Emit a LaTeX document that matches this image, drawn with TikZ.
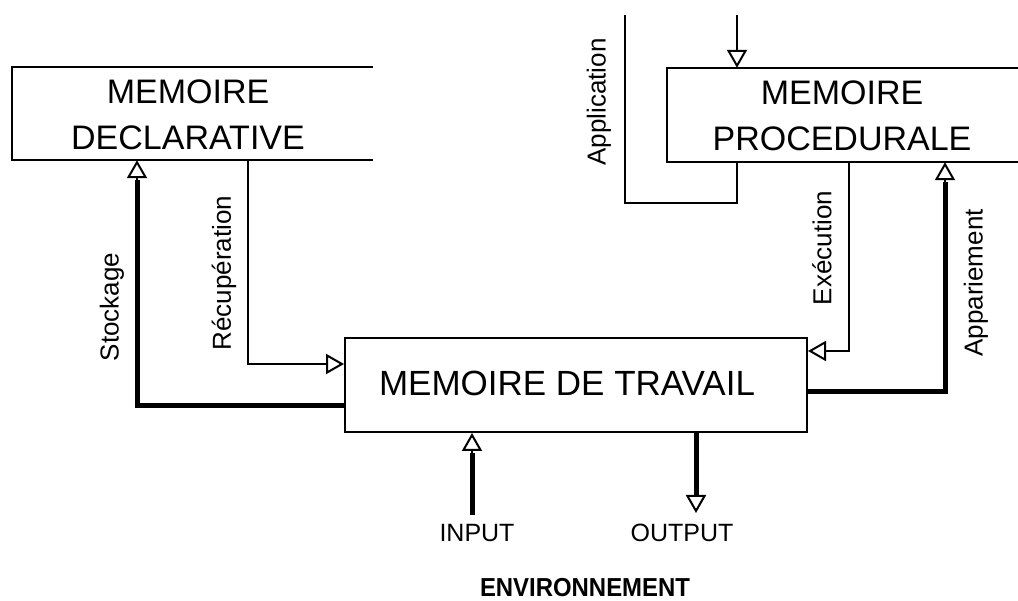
\documentclass[tikz,border=0pt]{standalone}
\usepackage{fontspec}
\setmainfont{Liberation Sans}
\usetikzlibrary{arrows.meta}
\begin{document}
\begin{tikzpicture}[x=1pt,y=-1pt,
  thinline/.style={line width=2pt},
  thickline/.style={line width=5pt},
  opentip/.style={-{Triangle[open,length=18pt,width=20pt,line width=2pt]}},
  memtext/.style={font=\fontsize{34}{46}\selectfont, align=center},
  flowlabel/.style={font=\fontsize{26}{30}\selectfont, rotate=90, inner sep=0pt},
  iolabel/.style={font=\fontsize{25}{30}\selectfont, inner sep=0pt}]
  \useasboundingbox (0,0) rectangle (1018,601);

  % memory stores (declarative and procedural are open on the right)
  \node[minimum width=361pt, minimum height=93pt, inner sep=0pt] (decl) at (192.5,113.5) {};
  \node[memtext] (decltxt) at (188,115) {MEMOIRE\\DECLARATIVE};
  \draw[thinline] (decl.north east) -- (decl.north west) -- (decl.south west) -- (decl.south east);

  \node[minimum width=360pt, minimum height=94pt, inner sep=0pt] (proc) at (847,115) {};
  \node[memtext] (proctxt) at (842,116) {MEMOIRE\\PROCEDURALE};
  \draw[thinline] (proc.north east) -- (proc.north west) -- (proc.south west) -- (proc.south east);

  \node[draw, thinline, minimum width=462pt, minimum height=94pt, inner sep=0pt] (mdt) at (576,385) {};
  \node[font=\fontsize{35}{40}\selectfont] (mdttxt) at (567,383) {MEMOIRE DE TRAVAIL};

  % routing points
  \coordinate (s1) at (137,406);
  \coordinate (r1) at (248,364);
  \coordinate (a1) at (737,203);
  \coordinate (a2) at (625,203);
  \coordinate (a3) at (625,15);
  \coordinate (a4) at (737,15);
  \coordinate (e1) at (849,351);
  \coordinate (p1) at (945,392);
  \coordinate (in1) at (472,515);
  \coordinate (out1) at (696,513);

  % Stockage
  \draw[thickline] (mdt.west |- s1) -- (s1) -- ([yshift=-20pt]s1 |- decl.south);
  \draw[thinline, opentip] ([yshift=-20pt]s1 |- decl.south) -- (s1 |- decl.south);
  % Recuperation
  \draw[thinline, opentip] (r1 |- decl.south) -- (r1) -- (r1 -| mdt.west);
  % Application
  \draw[thinline] (a1 |- proc.south) -- (a1) -- (a2) -- (a3);
  \draw[thinline, opentip] (a4) -- (a4 |- proc.north);
  % Execution
  \draw[thinline, opentip] (e1 |- proc.south) -- (e1) -- (e1 -| mdt.east);
  % Appariement
  \draw[thickline] (mdt.east |- p1) -- (p1) -- ([yshift=-20pt]p1 |- proc.south);
  \draw[thinline, opentip] ([yshift=-20pt]p1 |- proc.south) -- (p1 |- proc.south);
  % Input / Output
  \draw[thickline] (in1) -- ([yshift=-20pt]in1 |- mdt.south);
  \draw[thinline, opentip] ([yshift=-20pt]in1 |- mdt.south) -- (in1 |- mdt.south);
  \draw[thickline] (out1 |- mdt.south) -- ([yshift=18pt]out1);
  \draw[thinline, opentip] ([yshift=18pt]out1) -- (out1);

  % flow labels
  \node[flowlabel] (lstock) at (112,307) {Stockage};
  \node[flowlabel] (lrecup) at (224,273) {Récupération};
  \node[flowlabel] (lappl) at (599,102) {Application};
  \node[flowlabel] (lexec) at (822,248) {Exécution};
  \node[flowlabel] (lappa) at (976,283) {Appariement};

  \node[iolabel] (lin) at (477,533) {INPUT};
  \node[iolabel] (lout) at (682,533) {OUTPUT};
  \node[font=\fontsize{26}{30}\selectfont\bfseries, inner sep=0pt, xscale=0.92] (lenv) at (585,588) {ENVIRONNEMENT};
\end{tikzpicture}
\end{document}
